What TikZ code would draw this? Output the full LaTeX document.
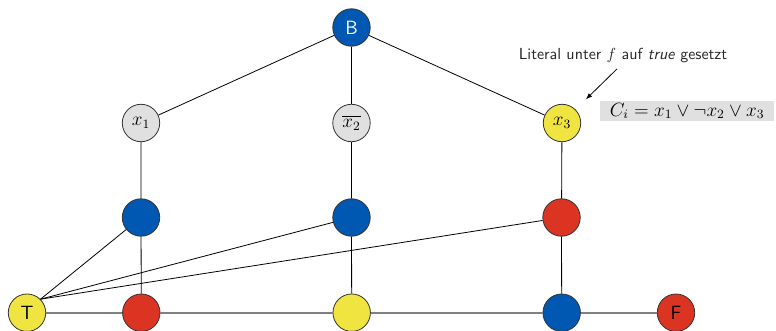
\documentclass[tikz,border=0pt]{standalone}
\usepackage{amsmath,amssymb}
\usetikzlibrary{arrows.meta}
\definecolor{nblue}{RGB}{0,88,178}
\definecolor{nred}{RGB}{220,52,34}
\definecolor{nyellow}{RGB}{240,228,64}
\definecolor{ngray}{RGB}{224,224,224}
\definecolor{nline}{RGB}{128,128,128}
\begin{document}
\begin{tikzpicture}[x=0.625pt,y=0.625pt,yscale=-1,xscale=1,
  vert/.style={circle,draw=black!80,line width=0.5pt,minimum size=23.4pt,inner sep=0pt,font=\sffamily\large},
  edge/.style={line width=0.5pt},
  rail/.style={nline,line width=1.1pt}]
\useasboundingbox (0,0) rectangle (776,331);

%Clause node
\node[vert,fill=nblue,text=white] (B) at (351.5,27.5) {B};
%Literal nodes
\node[vert,fill=ngray] (x1) at (141,123) {$x_1$};
\node[vert,fill=ngray] (x2) at (351.5,123) {$\overline{x_2}$};
\node[vert,fill=nyellow] (x3) at (562,123) {$x_3$};
%Middle nodes
\node[vert,fill=nblue] (m1) at (141,217.5) {};
\node[vert,fill=nblue] (m2) at (351.5,217.5) {};
\node[vert,fill=nred] (m3) at (561.5,217.5) {};
%Bottom nodes
\node[vert,fill=nyellow] (T) at (27,312.7) {T};
\node[vert,fill=nred] (b1) at (141.3,312.7) {};
\node[vert,fill=nyellow] (b2) at (351.7,312.7) {};
\node[vert,fill=nblue] (b3) at (561.7,312.7) {};
\node[vert,fill=nred] (F) at (676,312.7) {F};

%Straight Lines
\draw[edge] (B) -- (x1);
\draw[edge] (B) -- (x2);
\draw[edge] (B) -- (x3);
\draw[edge] (x1) -- (m1) -- (b1);
\draw[edge] (x2) -- (m2) -- (b2);
\draw[edge] (x3) -- (m3) -- (b3);
\draw[edge] (T.north east) -- (m1);
\draw[edge] (T.north east) -- (m2);
\draw[edge] (T.north east) -- (m3);
\draw[rail] (T) -- (b1) -- (b2) -- (b3) -- (F);

% Text Node
\node[font=\sffamily,text=black!85] (lbl) at (623,56) {Literal unter $f$ auf \textit{true} gesetzt};
\node[fill=ngray,anchor=west,inner xsep=6pt,inner ysep=1.3pt,font=\large] (Ci) at (600,111) {$C_i = x_1 \vee \neg x_2 \vee x_3$};
\draw[edge,-{Latex[length=4pt,width=3pt]},shorten >=9pt] ([xshift=-3.75pt]lbl.south) -- (x3.north east);
\end{tikzpicture}
\end{document}
